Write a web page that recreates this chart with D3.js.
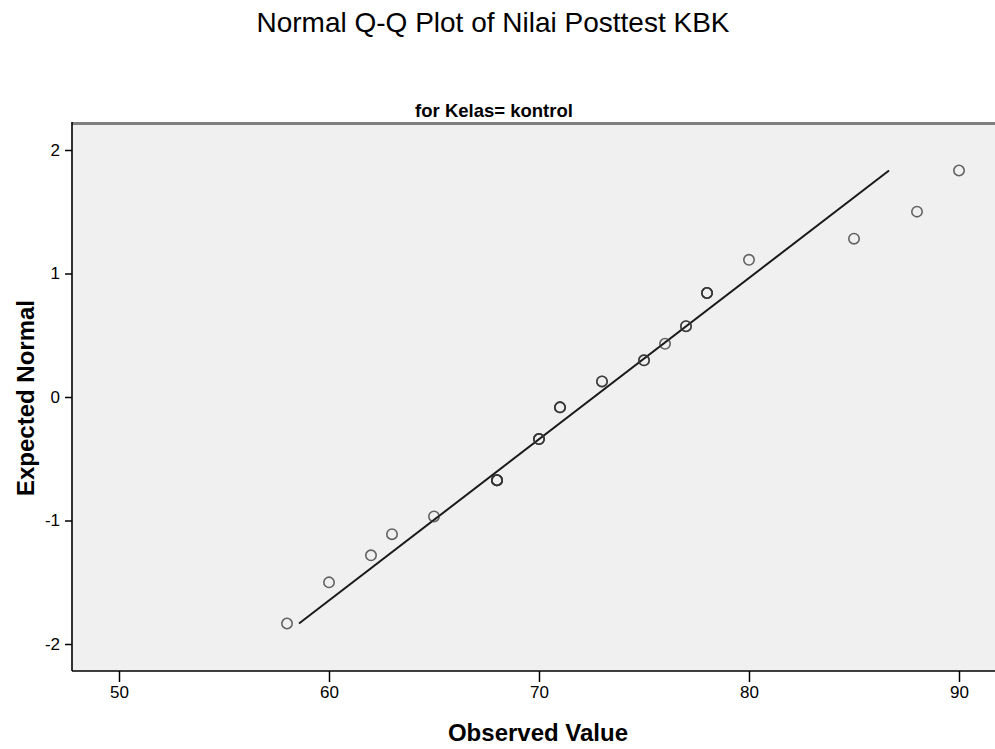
<!DOCTYPE html>
<html>
<head>
<meta charset="utf-8">
<script src="https://cdn.jsdelivr.net/npm/d3@7"></script>
<style>
  html, body { margin: 0; padding: 0; background: #ffffff; }
  svg { display: block; font-family: "Liberation Sans", Arial, sans-serif; }
</style>
</head>
<body>
<svg id="chart" width="995" height="749"></svg>
<script>
// ---- Data ----
const chartTitle = "Normal Q-Q Plot of Nilai Posttest KBK";
const panelTitle = "for Kelas= kontrol";
const xAxisTitle = "Observed Value";
const yAxisTitle = "Expected Normal";

// one entry per observation (tied values repeat)
const observedValues = [58, 60, 62, 63, 65, 68, 68, 68, 68, 70, 70, 70, 71, 71, 71,
                        73, 73, 75, 75, 76, 77, 77, 78, 78, 78, 80, 85, 88, 90];
const expectedNormal = [-1.834, -1.501, -1.282, -1.111, -0.967,
                        -0.674, -0.674, -0.674, -0.674,
                        -0.341, -0.341, -0.341,
                        -0.084, -0.084, -0.084,
                        0.126, 0.126, 0.297, 0.297, 0.431, 0.573, 0.573,
                        0.842, 0.842, 0.842, 1.111, 1.282, 1.501, 1.834];

// reference line: expected = (observed - mean) / sd
const lineMean = 72.62;
const lineSD = 7.66;

const xTickValues = [50, 60, 70, 80, 90];
const yTickValues = [-2, -1, 0, 1, 2];
const xTickLabels = ["50", "60", "70", "80", "90"];
const yTickLabels = ["-2", "-1", "0", "1", "2"];

// ---- Layout ----
const W = 995, H = 749;
const plot = { left: 72, top: 122, right: 1000, bottom: 671 };

const svg = d3.select("#chart");

const x = d3.scaleLinear().domain([50, 90]).range([119, 959]);
const y = d3.scaleLinear().domain([-2, 2]).range([644, 150]);

// plot background
svg.append("rect")
  .attr("x", plot.left).attr("y", plot.top)
  .attr("width", plot.right - plot.left).attr("height", plot.bottom - plot.top)
  .attr("fill", "#f0f0f0");

// titles
svg.append("text")
  .attr("x", 493).attr("y", 32)
  .attr("text-anchor", "middle")
  .attr("font-size", 28)
  .attr("fill", "#000")
  .text(chartTitle);

svg.append("text")
  .attr("x", 494).attr("y", 117)
  .attr("text-anchor", "middle")
  .attr("font-size", 18.5)
  .attr("font-weight", "bold")
  .attr("fill", "#000")
  .text(panelTitle);

// top frame line (gray)
svg.append("line")
  .attr("x1", plot.left).attr("x2", W)
  .attr("y1", plot.top + 1.5).attr("y2", plot.top + 1.5)
  .attr("stroke", "#808080").attr("stroke-width", 3);

// axes
const yAxis = d3.axisLeft(y).tickValues(yTickValues).tickSize(7).tickPadding(5)
  .tickFormat((d, i) => yTickLabels[i]);
const gy = svg.append("g").attr("transform", `translate(${plot.left},0)`).call(yAxis);
gy.select(".domain").remove();
gy.selectAll(".tick line").attr("stroke", "#000").attr("stroke-width", 1.5);
gy.selectAll(".tick text").attr("font-size", 17).attr("fill", "#000")
  .attr("font-family", "Liberation Sans, Arial, sans-serif");

const xAxis = d3.axisBottom(x).tickValues(xTickValues).tickSize(11).tickPadding(4)
  .tickFormat((d, i) => xTickLabels[i]);
const gx = svg.append("g").attr("transform", `translate(0,${plot.bottom})`).call(xAxis);
gx.select(".domain").remove();
gx.selectAll(".tick line").attr("stroke", "#000").attr("stroke-width", 1.5);
gx.selectAll(".tick text").attr("font-size", 17).attr("fill", "#000")
  .attr("font-family", "Liberation Sans, Arial, sans-serif");

// axis lines (left and bottom)
svg.append("line")
  .attr("x1", plot.left).attr("x2", plot.left)
  .attr("y1", plot.top).attr("y2", plot.bottom)
  .attr("stroke", "#000").attr("stroke-width", 1.6);
svg.append("line")
  .attr("x1", plot.left).attr("x2", W)
  .attr("y1", plot.bottom).attr("y2", plot.bottom)
  .attr("stroke", "#000").attr("stroke-width", 1.6);

// axis titles
svg.append("text")
  .attr("x", 538).attr("y", 741)
  .attr("text-anchor", "middle")
  .attr("font-size", 24).attr("font-weight", "bold")
  .attr("fill", "#000")
  .text(xAxisTitle);

svg.append("text")
  .attr("transform", "translate(34,398) rotate(-90)")
  .attr("text-anchor", "middle")
  .attr("font-size", 24).attr("font-weight", "bold")
  .attr("fill", "#000")
  .text(yAxisTitle);

// reference line
const zMin = d3.min(expectedNormal), zMax = d3.max(expectedNormal);
const lineData = [zMin, zMax].map(z => ({ obs: lineMean + z * lineSD, z }));
svg.append("path")
  .datum(lineData)
  .attr("d", d3.line().x(d => x(d.obs)).y(d => y(d.z)))
  .attr("fill", "none")
  .attr("stroke", "#1a1a1a")
  .attr("stroke-width", 2);

// points
const pts = observedValues.map((v, i) => ({ obs: v, z: expectedNormal[i] }));
svg.append("g").selectAll("circle")
  .data(pts).enter().append("circle")
  .attr("cx", d => x(d.obs))
  .attr("cy", d => y(d.z))
  .attr("r", 5.2)
  .attr("fill", "none")
  .attr("stroke", "#333")
  .attr("stroke-opacity", 0.75)
  .attr("stroke-width", 1.6);
</script>
</body>
</html>
